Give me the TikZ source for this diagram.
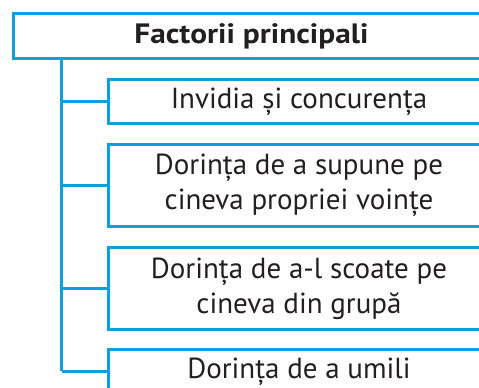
\documentclass[tikz,border=0pt]{standalone}
\usepackage{fontspec}
\setmainfont{PT Sans}
\newfontfamily\titlefont[FakeStretch=1.12]{PT Sans Bold}
\definecolor{lineblue}{HTML}{0EA0DC}
\definecolor{txt}{HTML}{231F20}
\begin{document}
\begin{tikzpicture}[x=1pt,y=1pt,
  box/.style={draw=lineblue, line width=3pt, fill=white, anchor=north west,
    inner sep=0pt, minimum width=381pt, text=txt, align=center,
    font=\fontsize{29}{35}\selectfont},
  conn/.style={draw=lineblue, line width=3pt}]
\useasboundingbox (0,0) rectangle (479,388);
\clip (0,0) rectangle (479,388);
\node[box, minimum width=476pt, minimum height=44.5pt, font=\fontsize{28}{35}\titlefont] (top) at (12,375.5) {Factorii principali};
\node[box, minimum height=44pt] (b1) at (107,310) {Invidia și concurența};
\node[box, minimum height=82pt] (b2) at (107,245) {Dorința de a supune pe\\cineva propriei voințe};
\node[box, minimum height=82pt] (b3) at (107,142) {Dorința de a-l scoate pe\\cineva din grupă};
\node[box, minimum height=44pt] (b4) at (107,40) {Dorința de a umili};
\coordinate (t0) at ([xshift=-190pt]top.south);
\coordinate (tend) at (t0 |- b4.west);
\draw[conn] (t0) -- (tend);
\draw[conn] (t0 |- b1.west) -- (b1.west);
\draw[conn] (t0 |- b2.west) -- (b2.west);
\draw[conn] (t0 |- b3.west) -- (b3.west);
\draw[conn] (tend) -- (b4.west);
\end{tikzpicture}
\end{document}
